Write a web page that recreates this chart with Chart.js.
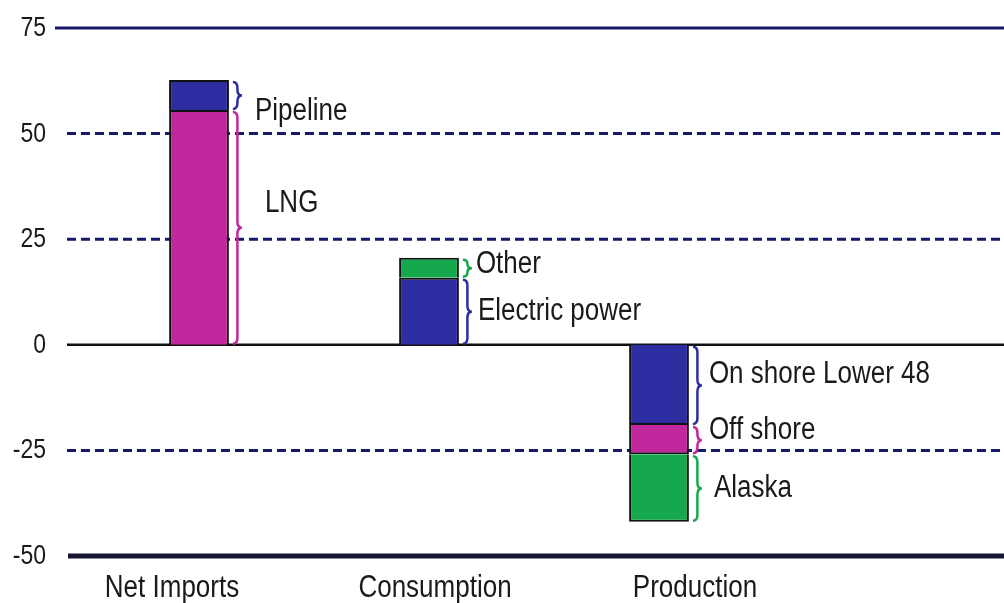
<!DOCTYPE html>
<html>
<head>
<meta charset="utf-8">
<title>Natural gas balance</title>
<script src="https://cdn.jsdelivr.net/npm/chart.js"></script>
<style>
  html, body { margin: 0; padding: 0; background: #fff; }
  #wrap { width: 1004px; height: 603px; }
</style>
</head>
<body>
<div id="wrap"><canvas id="gasChart" width="1004" height="603"></canvas></div>
<script>
const categories = ['Net Imports', 'Consumption', 'Production', ''];

// stacked segments, one array per piece
const lng = [55.6, null, null];
const pipeline = [7.1, null, null];
const electricPower = [null, 15.9, null];
const other = [null, 4.7, null];
const onshoreLower48 = [null, null, -19];
const offshore = [null, null, -6.9];
const alaska = [null, null, -16];

const yTicks = [75, 50, 25, 0, -25, -50];

const BLUE = '#2d2da1';
const MAGENTA = '#c2289d';
const GREEN = '#15a84d';
const NAVY = '#18186c';
const FONT = "'Liberation Sans', Arial, sans-serif";
const TEXT = '#1a1a1a';

// where each segment's text sits, relative to bar edge and segment middle
const labelNudge = {
  'Pipeline': [26, 25],
  'LNG': [36, -15],
  'Other': [17, 5],
  'Electric power': [19, 9],
  'On shore Lower 48': [20, -2],
  'Off shore': [20, -1],
  'Alaska': [25, 9]
};
const catNudge = [-27, 6, 36];

function segment(label, data, color) {
  return {
    label, data,
    backgroundColor: color,
    borderColor: '#111',
    borderWidth: 2,
    borderSkipped: 'start',
    barPercentage: 0.26,
    categoryPercentage: 1
  };
}

// text a little taller than wide, like the slide it came from
function tallText(ctx, str, x, y, size, align) {
  ctx.save();
  ctx.fillStyle = TEXT;
  ctx.font = size + 'px ' + FONT;
  ctx.textAlign = align;
  ctx.textBaseline = 'alphabetic';
  ctx.translate(x, y);
  ctx.scale(1, 1.2);
  ctx.fillText(str, 0, 0);
  ctx.restore();
}

const guideLines = {
  id: 'guideLines',
  beforeDatasetsDraw(chart) {
    const ctx = chart.ctx;
    const y = chart.scales.y;
    const right = chart.width;
    yTicks.forEach(v => {
      const py = y.getPixelForValue(v);
      ctx.save();
      ctx.beginPath();
      let x0 = 67;
      if (v === 75) {
        ctx.strokeStyle = NAVY; ctx.lineWidth = 3; x0 = 55;
      } else if (v === 0) {
        ctx.strokeStyle = '#111'; ctx.lineWidth = 2.5;
      } else if (v === -50) {
        ctx.strokeStyle = '#15152f'; ctx.lineWidth = 5; x0 = 68;
      } else {
        ctx.strokeStyle = NAVY; ctx.lineWidth = 3; ctx.setLineDash([9, 5]);
      }
      ctx.moveTo(x0, py);
      ctx.lineTo(right, py);
      ctx.stroke();
      ctx.restore();
      tallText(ctx, String(v), 46, py + 8, 23, 'right');
    });
  }
};

function brace(ctx, x, top, bottom, color) {
  const w = 9;
  const mid = (top + bottom) / 2;
  const r = Math.min(6, (bottom - top) / 4);
  ctx.save();
  ctx.strokeStyle = color;
  ctx.lineWidth = 2.5;
  ctx.beginPath();
  ctx.moveTo(x, top);
  ctx.quadraticCurveTo(x + w / 2, top, x + w / 2, top + r);
  ctx.lineTo(x + w / 2, mid - r);
  ctx.quadraticCurveTo(x + w / 2, mid, x + w, mid);
  ctx.quadraticCurveTo(x + w / 2, mid, x + w / 2, mid + r);
  ctx.lineTo(x + w / 2, bottom - r);
  ctx.quadraticCurveTo(x + w / 2, bottom, x, bottom);
  ctx.stroke();
  ctx.restore();
}

const segmentNotes = {
  id: 'segmentNotes',
  afterDatasetsDraw(chart) {
    const ctx = chart.ctx;
    chart.data.datasets.forEach((ds, i) => {
      chart.getDatasetMeta(i).data.forEach((bar, j) => {
        if (ds.data[j] == null) return;
        const top = Math.min(bar.y, bar.base);
        const bottom = Math.max(bar.y, bar.base);
        const edge = bar.x + bar.width / 2;
        brace(ctx, edge + 4, top + 2, bottom - 1, ds.backgroundColor);
        const [dx, dy] = labelNudge[ds.label] || [20, 10];
        tallText(ctx, ds.label, edge + dx, (top + bottom) / 2 + dy, 26, 'left');
      });
    });
  },
  afterDraw(chart) {
    const x = chart.scales.x;
    categories.slice(0, 3).forEach((c, i) => {
      tallText(chart.ctx, c, x.getPixelForValue(i) + catNudge[i], 597, 26, 'center');
    });
  }
};

new Chart(document.getElementById('gasChart'), {
  type: 'bar',
  data: {
    labels: categories,
    datasets: [
      segment('LNG', lng, MAGENTA),
      segment('Pipeline', pipeline, BLUE),
      segment('Electric power', electricPower, BLUE),
      segment('Other', other, GREEN),
      segment('On shore Lower 48', onshoreLower48, BLUE),
      segment('Off shore', offshore, MAGENTA),
      segment('Alaska', alaska, GREEN)
    ]
  },
  options: {
    responsive: false,
    animation: false,
    devicePixelRatio: 1,
    layout: { padding: { top: 28, bottom: 47, left: 84, right: 0 } },
    plugins: {
      legend: { display: false },
      tooltip: { enabled: false }
    },
    scales: {
      x: { stacked: true, display: false },
      y: { stacked: true, display: false, min: -50, max: 75 }
    }
  },
  plugins: [guideLines, segmentNotes]
});
</script>
</body>
</html>
